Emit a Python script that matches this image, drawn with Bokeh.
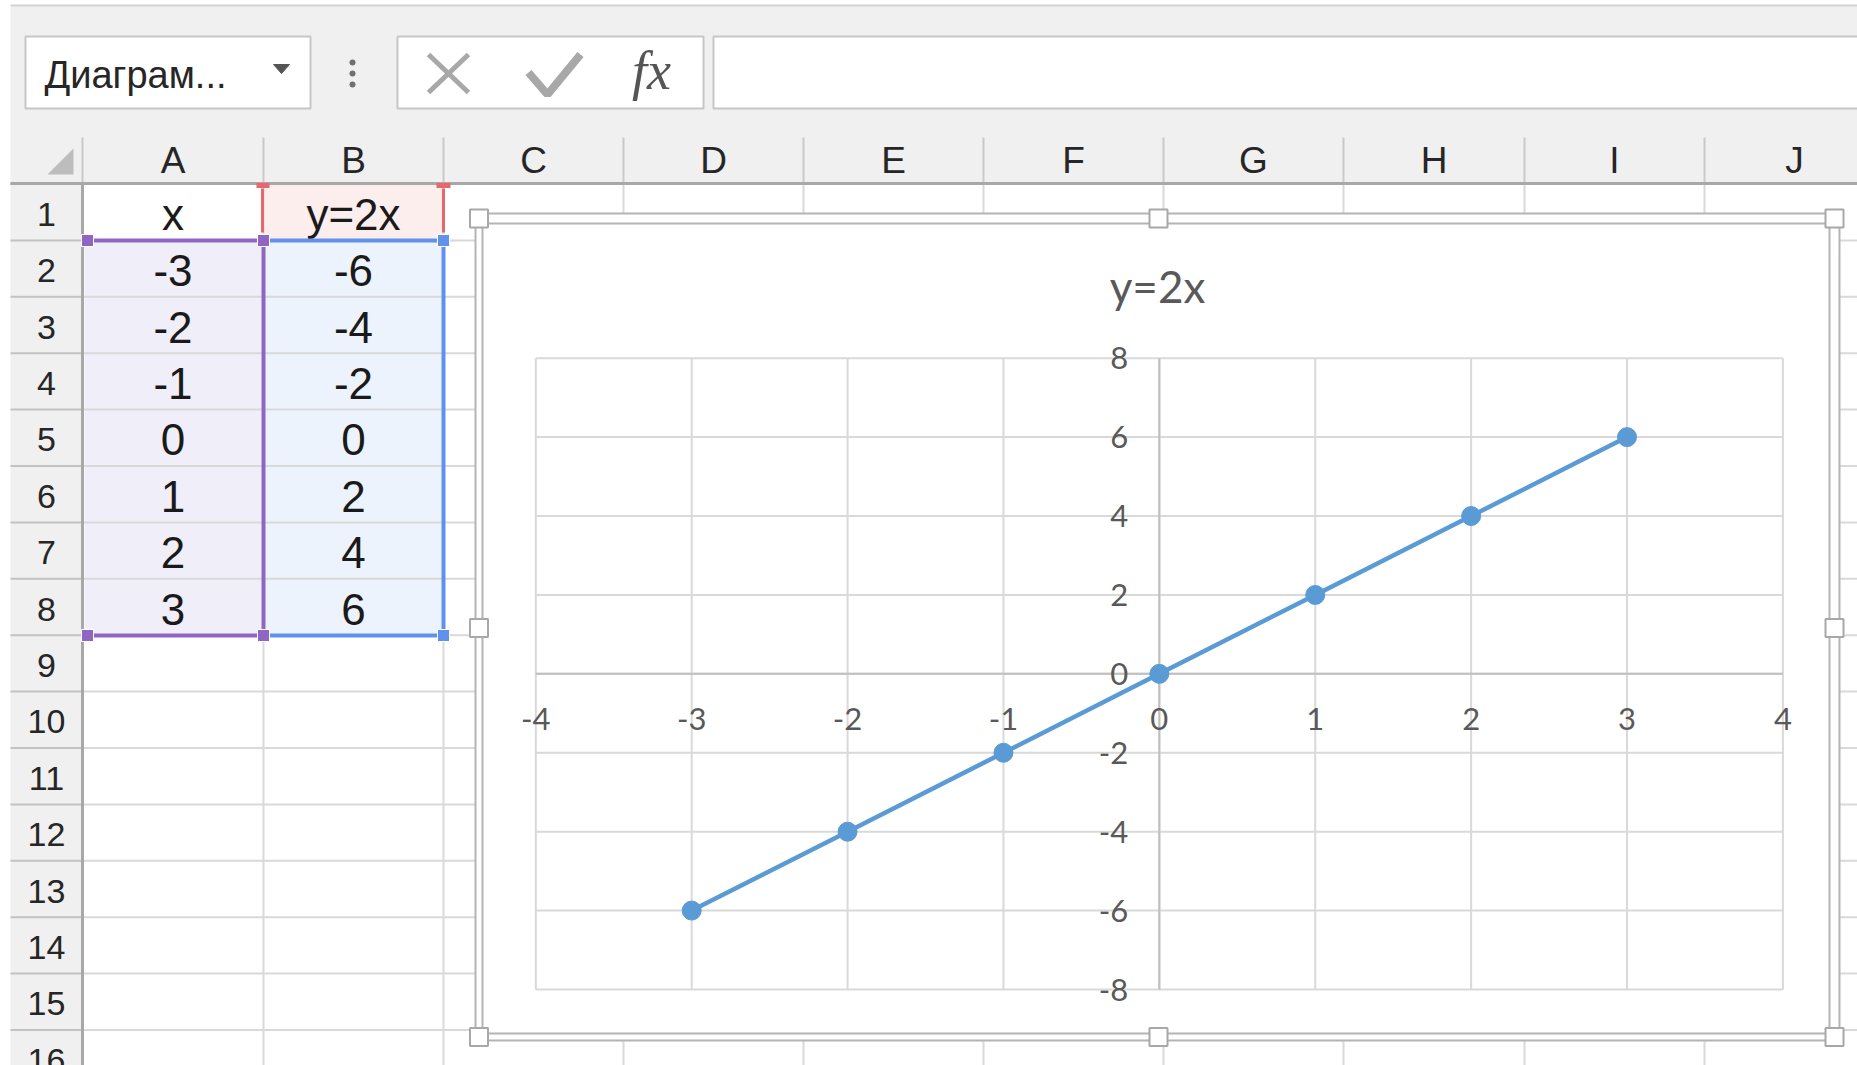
from bokeh.plotting import figure
from bokeh.models import Range1d
from bokeh.core.properties import value
from bokeh.embed import file_html
from bokeh.resources import INLINE

# ---------------- data ----------------
X_VALUES = [-3, -2, -1, 0, 1, 2, 3]
Y_VALUES = [-6, -4, -2, 0, 2, 4, 6]
X_HEADER = "x"
Y_HEADER = "y=2x"
CHART_TITLE = "y=2x"
X_TICKS = [-4, -3, -2, -1, 0, 1, 2, 3, 4]
Y_TICKS = [-8, -6, -4, -2, 0, 2, 4, 6, 8]
X_TICK_LABELS = ["-4", "-3", "-2", "-1", "0", "1", "2", "3", "4"]
Y_TICK_LABELS = ["-8", "-6", "-4", "-2", "0", "2", "4", "6", "8"]
COLUMN_LETTERS = ["A", "B", "C", "D", "E", "F", "G", "H", "I", "J"]
ROW_NUMBERS = [str(i) for i in range(1, 17)]
NAME_BOX_TEXT = "Диаграм..."

# ---------------- layout (page pixels) ----------------
W, H = 1857, 1065
X0, Y0 = 0, 0   # page position of the canvas
COL_EDGES = [82, 263, 443, 623, 803, 983, 1163, 1343, 1524, 1704, 1884]
ROW_TOP, ROW_H = 183.5, 56.4
ROW_EDGES = [ROW_TOP + k * ROW_H for k in range(17)]
COL_CENTERS = [(a + b) / 2 for a, b in zip(COL_EDGES[:-1], COL_EDGES[1:])]
ROW_CENTERS = [ROW_TOP + (k + 0.5) * ROW_H + 2 for k in range(16)]

SHEET_FONT = value("Liberation Sans")
CHART_FONT = value("Lato")

p = figure(width=W, height=H, x_range=Range1d(X0, X0 + W), y_range=Range1d(Y0 + H, Y0),
           output_backend="svg", toolbar_location=None, tools="",
           x_axis_location=None, y_axis_location=None, min_border=0,
           outline_line_color=None, background_fill_color="white",
           border_fill_color="white")
p.grid.visible = False

# ribbon + header backgrounds
p.quad(left=[10], right=[1870], top=[6], bottom=[183], fill_color="#f0f0f0", line_color=None)
p.segment(x0=[10], y0=[5], x1=[1870], y1=[5], line_color="#d2d2d2", line_width=2)
p.quad(left=[10], right=[82], top=[183], bottom=[1080], fill_color="#f0f0f0", line_color=None)

# name box, button box, formula input
p.quad(left=[25, 397, 713], right=[310, 703, 1880], top=[36, 36, 36], bottom=[108, 108, 108],
       fill_color="white", line_color="#c6c6c6", line_width=2)
p.text(x=[44], y=[74], text=[NAME_BOX_TEXT], text_font=SHEET_FONT, text_font_size="38px",
       text_color="#262626", text_align="left", text_baseline="middle")
p.patch(x=[273, 289, 281], y=[64, 64, 73], fill_color="#555555", line_color="#555555")
p.scatter(x=[352, 352, 352], y=[62, 73, 84], size=6, fill_color="#707070", line_color=None)
# cancel / enter / fx icons
p.segment(x0=[428, 428], y0=[54, 92], x1=[468, 468], y1=[92, 54], line_color="#a8a8a8", line_width=5)
p.line(x=[528, 547, 580], y=[72, 94, 54], line_color="#a8a8a8", line_width=8)
p.text(x=[651], y=[70], text=["fx"], text_font=value("Liberation Serif"), text_font_style="italic",
       text_font_size="54px", text_color="#555555", text_align="center", text_baseline="middle")

# column header separators and letters
p.segment(x0=COL_EDGES[:-1], y0=[137] * 10, x1=COL_EDGES[:-1], y1=[183] * 10,
          line_color="#c9c9c9", line_width=2)
p.text(x=COL_CENTERS, y=[160] * 10, text=COLUMN_LETTERS, text_font=SHEET_FONT,
       text_font_size="37px", text_color="#262626", text_align="center", text_baseline="middle")
p.patch(x=[73, 73, 47], y=[148, 174, 174], fill_color="#bdbdbd", line_color=None)

# selection fills
p.quad(left=[84], right=[263], top=[240], bottom=[635], fill_color="#f0eef8", line_color=None)
p.quad(left=[263], right=[443], top=[240], bottom=[635], fill_color="#edf3fc", line_color=None)
p.quad(left=[263], right=[443], top=[184], bottom=[240], fill_color="#fdeeee", line_color=None)

# cell grid
p.segment(x0=COL_EDGES[1:], y0=[184] * 10, x1=COL_EDGES[1:], y1=[1080] * 10,
          line_color="#d9d9d9", line_width=2)
p.segment(x0=[82] * 17, y0=ROW_EDGES, x1=[1880] * 17, y1=ROW_EDGES, line_color="#d9d9d9", line_width=2)
p.segment(x0=[10] * 17, y0=ROW_EDGES, x1=[82] * 17, y1=ROW_EDGES, line_color="#c2c2c2", line_width=2)
p.segment(x0=[10], y0=[183], x1=[1880], y1=[183], line_color="#a8a8a8", line_width=3)
p.segment(x0=[82], y0=[183], x1=[82], y1=[1080], line_color="#a8a8a8", line_width=3)

# row numbers
p.text(x=[46] * 16, y=ROW_CENTERS, text=ROW_NUMBERS, text_font=SHEET_FONT, text_font_size="34px",
       text_color="#262626", text_align="center", text_baseline="middle")

# table values
cell_kw = dict(text_font=SHEET_FONT, text_font_size="44px", text_color="#1a1a1a",
               text_align="center", text_baseline="middle")
p.text(x=[COL_CENTERS[0]], y=[ROW_CENTERS[0]], text=[X_HEADER], **cell_kw)
p.text(x=[COL_CENTERS[1]], y=[ROW_CENTERS[0]], text=[Y_HEADER], **cell_kw)
p.text(x=[COL_CENTERS[0]] * len(X_VALUES), y=ROW_CENTERS[1:1 + len(X_VALUES)],
       text=[str(v) for v in X_VALUES], **cell_kw)
p.text(x=[COL_CENTERS[1]] * len(Y_VALUES), y=ROW_CENTERS[1:1 + len(Y_VALUES)],
       text=[str(v) for v in Y_VALUES], **cell_kw)

# selection borders
PURPLE, BLUE, RED = "#9066c3", "#6092ec", "#e8676c"
p.segment(x0=[86, 263, 86], y0=[240, 240, 635], x1=[263, 263, 263], y1=[240, 635, 635],
          line_color=PURPLE, line_width=4)
p.segment(x0=[263, 443, 263], y0=[240, 240, 635], x1=[443, 443, 443], y1=[240, 635, 635],
          line_color=BLUE, line_width=4)
p.segment(x0=[262, 443], y0=[188, 188], x1=[262, 443], y1=[232, 232], line_color=RED, line_width=3)
p.segment(x0=[256, 436], y0=[185, 185], x1=[269, 450], y1=[185, 185], line_color=RED, line_width=5)
p.scatter(x=[87, 263, 87, 263], y=[240, 240, 635, 635], marker="square", size=12,
          fill_color=PURPLE, line_color="white", line_width=1)
p.scatter(x=[443, 443], y=[240, 635], marker="square", size=12,
          fill_color=BLUE, line_color="white", line_width=1)

# chart frame
p.quad(left=[475], right=[1839], top=[213], bottom=[1040], fill_color="white",
       line_color="#b4b4b4", line_width=2)
p.quad(left=[482], right=[1829], top=[223], bottom=[1033], fill_color="white",
       line_color="#b4b4b4", line_width=2)
p.scatter(x=[478.5, 1158, 1834, 478.5, 1834, 478.5, 1158, 1834],
          y=[218, 218, 218, 627.5, 627.5, 1036.5, 1036.5, 1036.5],
          marker="square", size=18, fill_color="white", line_color="#a8a8a8", line_width=2)

# chart title
p.text(x=[1157], y=[285], text=[CHART_TITLE], text_font=CHART_FONT, text_font_size="44px",
       text_color="#595959", text_align="center", text_baseline="middle")

# chart coordinate system: plot area x=-4..4 -> px 535.3..1782.4 ; y=8..-8 -> px 357.7..989
PX_L, PX_R = 535.3, 1782.4
PY_T, PY_B = 357.7, 989.0
xmin, xmax = min(X_TICKS), max(X_TICKS)
ymin, ymax = min(Y_TICKS), max(Y_TICKS)
ux = (PX_R - PX_L) / (xmax - xmin)
uy = (PY_B - PY_T) / (ymax - ymin)
p.extra_x_ranges = {"cx": Range1d(xmin - (PX_L - X0) / ux, xmax + (X0 + W - PX_R) / ux)}
p.extra_y_ranges = {"cy": Range1d(ymin - (Y0 + H - PY_B) / uy, ymax + (PY_T - Y0) / uy)}
ck = dict(x_range_name="cx", y_range_name="cy")

GRID = "#d9d9d9"
p.segment(x0=X_TICKS, y0=[ymin] * len(X_TICKS), x1=X_TICKS, y1=[ymax] * len(X_TICKS),
          line_color=GRID, line_width=2, **ck)
p.segment(x0=[xmin] * len(Y_TICKS), y0=Y_TICKS, x1=[xmax] * len(Y_TICKS), y1=Y_TICKS,
          line_color=GRID, line_width=2, **ck)
p.segment(x0=[0, xmin], y0=[ymin, 0], x1=[0, xmax], y1=[ymax, 0], line_color="#bfbfbf",
          line_width=2, **ck)

p.text(x=X_TICKS, y=[0] * len(X_TICKS), text=X_TICK_LABELS, y_offset=45,
       text_font=CHART_FONT, text_font_size="31px", text_color="#595959",
       text_align="center", text_baseline="middle", **ck)
p.text(x=[0] * len(Y_TICKS), y=Y_TICKS, text=Y_TICK_LABELS, x_offset=-31,
       text_font=CHART_FONT, text_font_size="31px", text_color="#595959",
       text_align="right", text_baseline="middle", **ck)

# series
p.line(x=X_VALUES, y=Y_VALUES, line_color="#5b9bd5", line_width=4.5, **ck)
p.scatter(x=X_VALUES, y=Y_VALUES, size=19, fill_color="#5b9bd5", line_color="#5b9bd5", **ck)

open("out.html", "w").write(file_html(p, INLINE))
